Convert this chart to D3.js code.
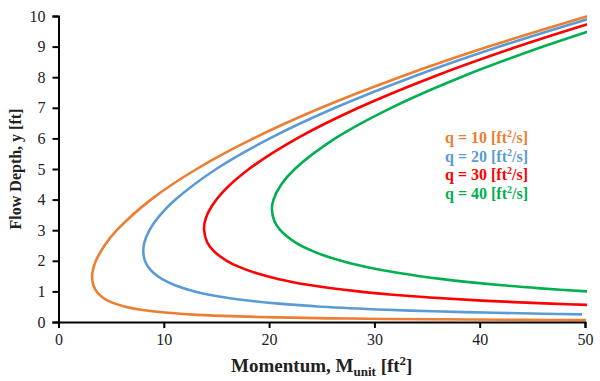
<!DOCTYPE html>
<html>
<head>
  <meta charset="utf-8">
  <title>Specific momentum</title>
  <script src="https://cdn.jsdelivr.net/npm/d3@7"></script>
  <style>
    body { margin: 0; background: #fff; }
    text { font-family: "Liberation Serif", "Times New Roman", serif; }
  </style>
</head>
<body>
<div id="chart"></div>
<script>
// flow depths y [ft] and momentum M [ft2]
var depth10 = [0.062, 0.07, 0.08, 0.1, 0.12, 0.15, 0.2, 0.25, 0.3, 0.4, 0.5, 0.6, 0.7, 0.8, 1.0, 1.2, 1.46, 1.7, 2.0, 2.5, 3, 4, 5, 6, 7, 8, 9, 10];
var mom10   = [50.09, 44.37, 38.82, 31.06, 25.89, 20.72, 15.55, 12.45, 10.40, 7.84, 6.34, 5.36, 4.68, 4.20, 3.61, 3.31, 3.19, 3.27, 3.55, 4.37, 5.54, 8.78, 13.12, 18.52, 24.94, 32.39, 40.85, 50.31];

var depth20 = [0.25, 0.27, 0.3, 0.35, 0.4, 0.5, 0.6, 0.7, 0.8, 1.0, 1.2, 1.4, 1.6, 1.8, 2.0, 2.32, 2.6, 3.0, 3.5, 4, 5, 6, 7, 8, 9, 10];
var mom20   = [49.72, 46.04, 41.45, 35.55, 31.14, 24.97, 20.88, 17.99, 15.85, 12.92, 11.07, 9.85, 9.04, 8.52, 8.21, 8.05, 8.16, 8.64, 9.67, 11.11, 14.98, 20.07, 26.27, 33.55, 41.88, 51.24];

var depth30 = [0.55, 0.6, 0.7, 0.8, 0.9, 1.0, 1.2, 1.4, 1.6, 1.8, 2.0, 2.3, 2.6, 3.04, 3.4, 3.8, 4.3, 5, 6, 7, 8, 9, 10];
var mom30   = [50.97, 46.76, 40.18, 35.26, 31.46, 28.45, 24.01, 20.94, 18.75, 17.15, 15.98, 14.80, 14.13, 13.82, 14.00, 14.58, 15.75, 18.09, 22.66, 28.49, 35.49, 43.61, 52.80];

var depth40 = [0.95, 1.0, 1.1, 1.2, 1.4, 1.6, 1.8, 2.0, 2.3, 2.6, 3.0, 3.3, 3.68, 4.0, 4.5, 5, 6, 7, 8, 9, 9.5, 10];
var mom40   = [52.76, 50.19, 45.78, 42.13, 36.47, 32.34, 29.23, 26.84, 24.25, 22.49, 21.06, 20.50, 20.27, 20.42, 21.17, 22.44, 26.28, 31.60, 38.21, 46.02, 50.36, 54.97];

var seriesNames = ["10", "20", "30", "40"];
var seriesColors = ["#ED7D31", "#5B9BD5", "#FF0000", "#00B050"];
var xTicks = [0, 10, 20, 30, 40, 50];
var yTicks = [0, 1, 2, 3, 4, 5, 6, 7, 8, 9, 10];

var width = 600, height = 381;
var margin = {top: 16, right: 15, bottom: 59, left: 58.5};

var svg = d3.select("#chart").append("svg")
  .attr("width", width)
  .attr("height", height);

var x = d3.scaleLinear().domain([0, 50]).range([margin.left, width - margin.right]);
var y = d3.scaleLinear().domain([0, 10]).range([height - margin.bottom, margin.top]);

svg.append("defs").append("clipPath").attr("id", "plotClip")
  .append("rect")
  .attr("x", x(0)).attr("y", y(10) - 2)
  .attr("width", x(50) - x(0) + 2).attr("height", y(0) - y(10) + 2);

var series = [
  {depth: depth10, mom: mom10},
  {depth: depth20, mom: mom20},
  {depth: depth30, mom: mom30},
  {depth: depth40, mom: mom40}
];

var line = d3.line()
  .x(function(d) { return x(d[1]); })
  .y(function(d) { return y(d[0]); })
  .curve(d3.curveCatmullRom.alpha(0.5));

svg.append("g").attr("clip-path", "url(#plotClip)")
  .selectAll("path")
  .data(series)
  .enter().append("path")
  .attr("fill", "none")
  .attr("stroke", function(d, i) { return seriesColors[i]; })
  .attr("stroke-width", 2.6)
  .attr("d", function(d) { return line(d3.zip(d.depth, d.mom)); });

// axes
var xAxis = svg.append("g")
  .attr("transform", "translate(0," + y(0) + ")")
  .call(d3.axisBottom(x).tickValues(xTicks).tickSize(6).tickPadding(6));
var yAxis = svg.append("g")
  .attr("transform", "translate(" + x(0) + ",0)")
  .call(d3.axisLeft(y).tickValues(yTicks).tickSize(6).tickPadding(7));

[xAxis, yAxis].forEach(function(a) {
  a.select(".domain").attr("stroke", "#000").attr("stroke-width", 2);
  a.selectAll(".tick line").attr("stroke", "#000").attr("stroke-width", 2);
  a.selectAll(".tick text")
    .attr("fill", "#222")
    .style("font-family", "'Liberation Serif', serif")
    .style("font-size", "16px");
});

// axis titles
var xt = svg.append("text")
  .attr("x", (x(0) + x(50)) / 2)
  .attr("y", 372)
  .attr("text-anchor", "middle")
  .style("font-size", "19px")
  .style("font-weight", "bold")
  .attr("fill", "#222");
xt.append("tspan").text("Momentum, M");
xt.append("tspan").attr("dy", 4).style("font-size", "13px").text("unit");
xt.append("tspan").attr("dy", -4).text(" [ft");
xt.append("tspan").attr("dy", -7).style("font-size", "13px").text("2");
xt.append("tspan").attr("dy", 7).text("]");

svg.append("text")
  .attr("transform", "translate(21," + ((y(0) + y(10)) / 2) + ") rotate(-90)")
  .attr("text-anchor", "middle")
  .style("font-size", "16px")
  .style("font-weight", "bold")
  .attr("fill", "#222")
  .text("Flow Depth, y [ft]");

// legend
var legend = svg.append("g").selectAll("text")
  .data(seriesNames)
  .enter().append("text")
  .attr("x", 445)
  .attr("y", function(d, i) { return 143 + i * 18.6; })
  .attr("fill", function(d, i) { return seriesColors[i]; })
  .style("font-size", "16px")
  .style("font-weight", "bold");
legend.append("tspan").text(function(d) { return "q = " + d + " [ft"; });
legend.append("tspan").attr("dy", -6).style("font-size", "10px").text("2");
legend.append("tspan").attr("dy", 6).text("/s]");
</script>
</body>
</html>
